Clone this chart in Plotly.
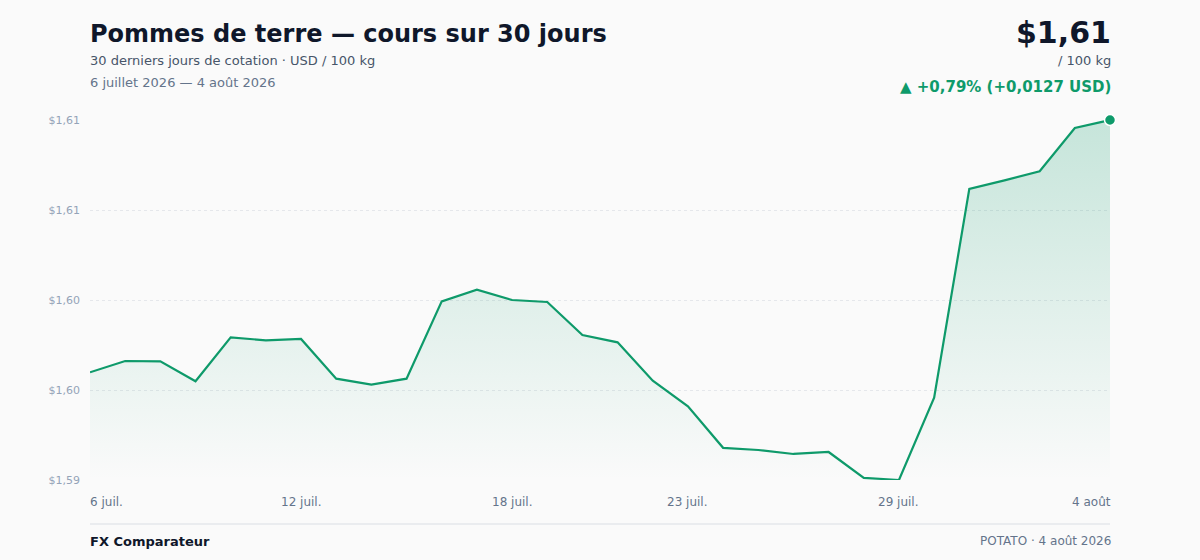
import plotly.graph_objects as go

# 30 jours de cotation, USD / 100 kg
dates = [
    "2026-07-06", "2026-07-07", "2026-07-08", "2026-07-09", "2026-07-10",
    "2026-07-11", "2026-07-12", "2026-07-13", "2026-07-14", "2026-07-15",
    "2026-07-16", "2026-07-17", "2026-07-18", "2026-07-19", "2026-07-20",
    "2026-07-21", "2026-07-22", "2026-07-23", "2026-07-24", "2026-07-25",
    "2026-07-26", "2026-07-27", "2026-07-28", "2026-07-29", "2026-07-30",
    "2026-07-31", "2026-08-01", "2026-08-02", "2026-08-03", "2026-08-04",
]
prices = [
    1.60000, 1.60057, 1.60055, 1.59955, 1.60176, 1.60161, 1.60168, 1.59968,
    1.59938, 1.59968, 1.60357, 1.60416, 1.60364, 1.60354, 1.60188, 1.60151,
    1.59958, 1.59829, 1.59620, 1.59609, 1.59589, 1.59599, 1.59469, 1.59458,
    1.59872, 1.60923, 1.60966, 1.61012, 1.61230, 1.61270,
]
label_idx = [0, 6, 12, 17, 23, 29]
label_txt = ["6 juil.", "12 juil.", "18 juil.", "23 juil.", "29 juil.", "4 août"]

GREEN = "#0e9a6a"
FONT = "DejaVu Sans"


def fmt(v, nd=2):
    return f"{v:.{nd}f}".replace(".", ",")


vmin, vmax = min(prices), max(prices)
ticks = [vmin + k * (vmax - vmin) / 4 for k in range(5)]
change = prices[-1] - prices[0]
pct = change / prices[0] * 100


def py(y):
    return (480 - y) / 360


fig = go.Figure()
fig.add_trace(go.Scatter(x=dates, y=[vmin] * len(dates), mode="lines",
                         line=dict(width=0), hoverinfo="skip", showlegend=False))
fig.add_trace(go.Scatter(
    x=dates, y=prices, mode="lines", fill="tonexty",
    line=dict(color=GREEN, width=2.2),
    fillgradient=dict(type="vertical", start=vmin, stop=vmax,
                      colorscale=[[0, "rgba(14,154,106,0.0)"],
                                  [1, "rgba(14,154,106,0.22)"]]),
    showlegend=False, cliponaxis=False,
))
fig.add_trace(go.Scatter(
    x=[dates[-1]], y=[prices[-1]], mode="markers",
    marker=dict(color=GREEN, size=11, line=dict(color="white", width=1.5)),
    showlegend=False, cliponaxis=False,
))

anns = []
for i, t in zip(label_idx, label_txt):
    anchor = "left" if i == 0 else ("right" if i == len(dates) - 1 else "center")
    shift = {"left": -2, "right": 3, "center": 0}[anchor]
    anns.append(dict(x=dates[i], y=0, xref="x", yref="paper", text=t,
                     showarrow=False, xanchor=anchor, yanchor="top", yshift=-13,
                     xshift=shift,
                     font=dict(size=12, color="#64748b", family=FONT)))

anns += [
    dict(x=0, y=py(34), text="<b>Pommes de terre — cours sur 30 jours</b>",
         font=dict(size=24, color="#0f172a", family=FONT), xanchor="left"),
    dict(x=0, y=py(61), text="30 derniers jours de cotation · USD / 100 kg",
         font=dict(size=13, color="#475569", family=FONT), xanchor="left"),
    dict(x=0, y=py(83), text="6 juillet 2026 — 4 août 2026",
         font=dict(size=13, color="#64748b", family=FONT), xanchor="left"),
    dict(x=1, y=py(33), text=f"<b>${fmt(prices[-1])}</b>",
         font=dict(size=30, color="#0f172a", family=FONT), xanchor="right"),
    dict(x=1, y=py(61), text="/ 100 kg",
         font=dict(size=13, color="#475569", family=FONT), xanchor="right"),
    dict(x=1, y=py(87),
         text=f"<b>▲ +{fmt(pct)}% (+{fmt(change, 4)} USD)</b>",
         font=dict(size=15, color=GREEN, family=FONT), xanchor="right"),
    dict(x=0, y=py(541), text="<b>FX Comparateur</b>",
         font=dict(size=13, color="#0f172a", family=FONT), xanchor="left"),
    dict(x=1, y=py(541), text="POTATO · 4 août 2026",
         font=dict(size=12, color="#64748b", family=FONT), xanchor="right"),
]
for a in anns[len(label_idx):]:
    a.update(xref="paper", yref="paper", showarrow=False, yanchor="middle",
             xshift=-2 if a["xanchor"] == "left" else 3)

fig.update_layout(
    width=1200, height=560,
    margin=dict(l=90, r=90, t=120, b=80),
    paper_bgcolor="#fafafa", plot_bgcolor="#fafafa",
    font=dict(family=FONT),
    annotations=anns,
    shapes=[dict(type="line", xref="paper", yref="paper", x0=0, x1=1,
                 y0=py(524), y1=py(524), line=dict(color="#e5e7eb", width=1.5))],
    xaxis=dict(range=[dates[0], dates[-1]], showgrid=False, zeroline=False,
               showticklabels=False, showline=False),
    yaxis=dict(range=[vmin, vmax], tickvals=ticks,
               ticktext=["$" + fmt(v) for v in ticks],
               showgrid=True, gridcolor="#e5e7eb", griddash="dot", gridwidth=1,
               zeroline=False, showline=False, ticks="", ticklabelstandoff=9,
               tickfont=dict(size=11, color="#94a3b8", family=FONT)),
)

fig.write_html("out.html", config={"displayModeBar": False},
               post_script="document.body.style.margin='0';"
                           "document.body.style.background='#fafafa';")
